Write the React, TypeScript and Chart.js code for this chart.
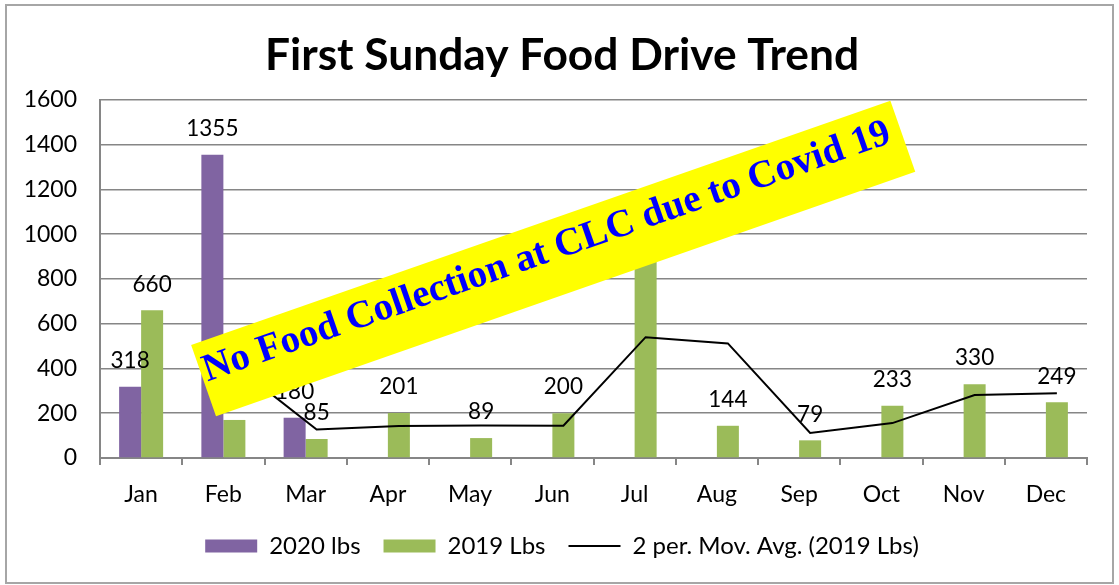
import React, { useEffect, useRef } from 'react';
import { Chart, registerables } from 'chart.js';

Chart.register(...registerables);

const months = ['Jan', 'Feb', 'Mar', 'Apr', 'May', 'Jun', 'Jul', 'Aug', 'Sep', 'Oct', 'Nov', 'Dec'];
const lbs2020: (number | null)[] = [318, 1355, 180, null, null, null, null, null, null, null, null, null];
const lbs2019: number[] = [660, 170, 85, 201, 89, 200, 880, 144, 79, 233, 330, 249];
const movAvg2019: (number | null)[] = [null, 415, 127.5, 143, 145, 144.5, 540, 512, 111.5, 156, 281.5, 289.5];
const yMin = 0;
const yMax = 1600;
const yStep = 200;

const chartTitle = 'First Sunday Food Drive Trend';
const bannerText = 'No Food Collection at CLC due to Covid 19';
const seriesNames = ['2020 lbs', '2019 Lbs', '2 per. Mov. Avg. (2019 Lbs)'];

const PURPLE = '#8064A2';
const GREEN = '#9BBB59';
const GRID = '#868686';
const FONT = 'Lato';
const LABEL_FS = 22.5;
const TICK_FS = 23;
const LEGEND_FS = 24;

const lineOffsetPlugin = {
  id: 'lineOffset',
  beforeDatasetDraw(chart: any, args: any) {
    if (args.index !== 2) return;
    const bars = chart.getDatasetMeta(1).data;
    const dx = bars[0].x - chart.scales.x.getPixelForValue(0);
    chart.ctx.save();
    chart.ctx.translate(dx, 0);
  },
  afterDatasetDraw(chart: any, args: any) {
    if (args.index !== 2) return;
    chart.ctx.restore();
  },
};

const dataLabelPlugin = {
  id: 'dataLabels',
  afterDatasetsDraw(chart: any) {
    const ctx = chart.ctx;
    ctx.save();
    ctx.font = `${LABEL_FS}px ${FONT}`;
    ctx.fillStyle = '#000';
    ctx.textAlign = 'center';
    ctx.textBaseline = 'middle';
    [0, 1].forEach((di) => {
      const meta = chart.getDatasetMeta(di);
      const values = chart.data.datasets[di].data;
      meta.data.forEach((el: any, i: number) => {
        const v = values[i];
        if (v === null || v === undefined) return;
        ctx.fillText(String(v), el.x, el.y - 26);
      });
    });
    ctx.restore();
  },
};

const bannerPlugin = {
  id: 'banner',
  afterDraw(chart: any) {
    const ctx = chart.ctx;
    ctx.save();
    // outer chart border
    ctx.strokeStyle = '#A6A6A6';
    ctx.lineWidth = 2;
    ctx.strokeRect(6, 5, 1107, 578);
    // rotated banner
    ctx.translate(553.2, 258.4);
    ctx.rotate((-19.26 * Math.PI) / 180);
    ctx.fillStyle = '#FFFF00';
    ctx.fillRect(-370.35, -37.7, 740.7, 75.4);
    ctx.fillStyle = '#0000FF';
    ctx.font = `bold 39px "Liberation Serif"`;
    ctx.textAlign = 'center';
    ctx.textBaseline = 'middle';
    ctx.fillText(bannerText, -4, -8);
    ctx.restore();
  },
};

export default function App() {
  const ref = useRef<HTMLCanvasElement | null>(null);

  useEffect(() => {
    if (!ref.current) return;
    const chart = new Chart(ref.current, {
      type: 'bar',
      data: {
        labels: months,
        datasets: [
          {
            type: 'bar',
            label: seriesNames[0],
            data: lbs2020 as any,
            backgroundColor: PURPLE,
            borderWidth: 0,
            categoryPercentage: 0.535,
            barPercentage: 1,
            pointStyle: 'rect',
          } as any,
          {
            type: 'bar',
            label: seriesNames[1],
            data: lbs2019,
            backgroundColor: GREEN,
            borderWidth: 0,
            categoryPercentage: 0.535,
            barPercentage: 1,
            pointStyle: 'rect',
          } as any,
          {
            type: 'line',
            label: seriesNames[2],
            data: movAvg2019 as any,
            borderColor: '#000000',
            backgroundColor: '#000000',
            borderWidth: 2,
            pointRadius: 0,
            tension: 0,
            order: -1,
            pointStyle: 'line',
          } as any,
        ],
      },
      options: {
        responsive: false,
        animation: false,
        devicePixelRatio: 1,
        layout: { padding: { left: 5, right: 0, top: 0, bottom: 17 } },
        scales: {
          x: {
            grid: { display: true, drawOnChartArea: false, drawTicks: true, tickLength: 7, color: GRID, lineWidth: 2, offset: true },
            border: { display: true, color: GRID, width: 2 },
            ticks: { color: '#000', font: { family: FONT, size: TICK_FS }, padding: 16 },
            afterFit: (s: any) => { s.height = 53; },
          },
          y: {
            min: yMin,
            max: yMax,
            grid: { color: GRID, lineWidth: 1.5, drawTicks: false },
            border: { display: true, color: GRID, width: 2 },
            ticks: {
              stepSize: yStep,
              color: '#000',
              font: { family: FONT, size: TICK_FS },
              padding: 23,
              callback: (v: any) => String(v),
            },
            afterFit: (s: any) => { s.width = 95; },
          },
          y2: {
            position: 'right',
            display: true,
            grid: { display: false },
            border: { display: false },
            ticks: { display: false },
            afterFit: (s: any) => { s.width = 32; },
          },
        },
        plugins: {
          title: {
            display: true,
            text: chartTitle,
            color: '#000',
            font: { family: FONT, size: 44.3, weight: 'bold' },
            padding: { top: 29.4, bottom: 17.4 },
          },
          legend: {
            position: 'bottom',
            labels: {
              color: '#000',
              font: { family: FONT, size: LEGEND_FS },
              usePointStyle: true,
              pointStyleWidth: 52,
              boxWidth: 52,
              boxHeight: 13,
              padding: 23,
              sort: (a: any, b: any) => a.datasetIndex - b.datasetIndex,
            },
          },
          tooltip: { enabled: false },
        },
      } as any,
      plugins: [lineOffsetPlugin, dataLabelPlugin, bannerPlugin],
    });
    return () => chart.destroy();
  }, []);

  return (
    <div style={{ position: 'fixed', left: 0, top: 0, width: 1119, height: 585, background: '#fff' }}>
      <canvas ref={ref} width={1119} height={585} />
    </div>
  );
}
